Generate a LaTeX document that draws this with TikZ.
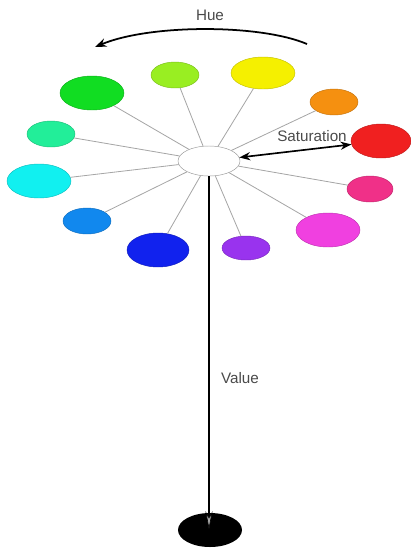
\documentclass[tikz,border=0pt]{standalone}
\usepackage{fontspec}
\setmainfont{Liberation Sans}
\usetikzlibrary{arrows.meta,shapes.geometric}

% colours of the hue wheel
\definecolor{clime}{HTML}{99EE22}
\definecolor{cyell}{HTML}{F5F000}
\definecolor{cgreen}{HTML}{11DD22}
\definecolor{corange}{HTML}{F59010}
\definecolor{csea}{HTML}{22EE99}
\definecolor{cred}{HTML}{F02020}
\definecolor{ccyan}{HTML}{11F0F0}
\definecolor{cpink}{HTML}{F03088}
\definecolor{cazure}{HTML}{1188EE}
\definecolor{cmag}{HTML}{F040E0}
\definecolor{cblue}{HTML}{1122EE}
\definecolor{cviolet}{HTML}{9933EE}
\definecolor{labgray}{HTML}{4A4A4A}

\tikzset{
  blob/.style={ellipse,inner sep=0pt,draw=#1!80!black,fill=#1,line width=0.4pt},
  spoke/.style={draw=black!35,line width=0.7pt},
  lab/.style={text=labgray,font=\fontsize{13}{15}\selectfont,inner sep=0pt}
}

\begin{document}
\begin{tikzpicture}[x=0.03cm,y=-0.03cm,>=Stealth]
\useasboundingbox (0,0) rectangle (411,548);
\def\u{0.06cm} % two pixels
% ---- hub and hue blobs ----
\node[ellipse,draw=black!40,fill=white,inner sep=0pt,
      minimum width=62*\u/2,minimum height=30*\u/2] (hub) at (209,161) {};
\foreach \n/\x/\y/\w/\h/\c in {
    lime/175/75/48/26/clime, yell/263/73/64/32/cyell,
    grn/92/93/64/34/cgreen, orng/334/102/48/26/corange,
    sea/51/134/48/26/csea, red/381/141/60/34/cred,
    cyan/39/181/64/34/ccyan, pink/370/189/46/26/cpink,
    azur/87/221/48/26/cazure, mag/328/230/64/34/cmag,
    blue/158/250/62/34/cblue, viol/246/248/48/24/cviolet}{
  \node[blob=\c,minimum width=\w*\u/2,minimum height=\h*\u/2] (\n) at (\x,\y) {};
  \draw[spoke] (hub) -- (\n);}
% ---- hue ----
\coordinate (hueR) at (307,44);
\coordinate (hueL) at (95,47);
\draw[->,line width=1.5pt] (hueR) .. controls (260,24) and (150,24) .. (hueL);
\node[lab] (hue) at (210,15) {Hue};
% ---- saturation ----
\draw[<->,line width=1.4pt] (hub) -- (red);
\node[lab] (sat) at (312,136) {Saturation};
% ---- value ----
\node[ellipse,fill=black,inner sep=0pt,minimum width=64*\u/2,
      minimum height=34*\u/2] (blk) at (210,530) {};
\coordinate (vend) at (209,530);
\draw[-{Stealth[fill=black!35,length=16pt,width=6pt,line width=0.5pt]},line width=1.1pt]
  (hub.south) -- (vend);
\node[lab] (val) at (240,378) {Value};
\end{tikzpicture}
\end{document}
